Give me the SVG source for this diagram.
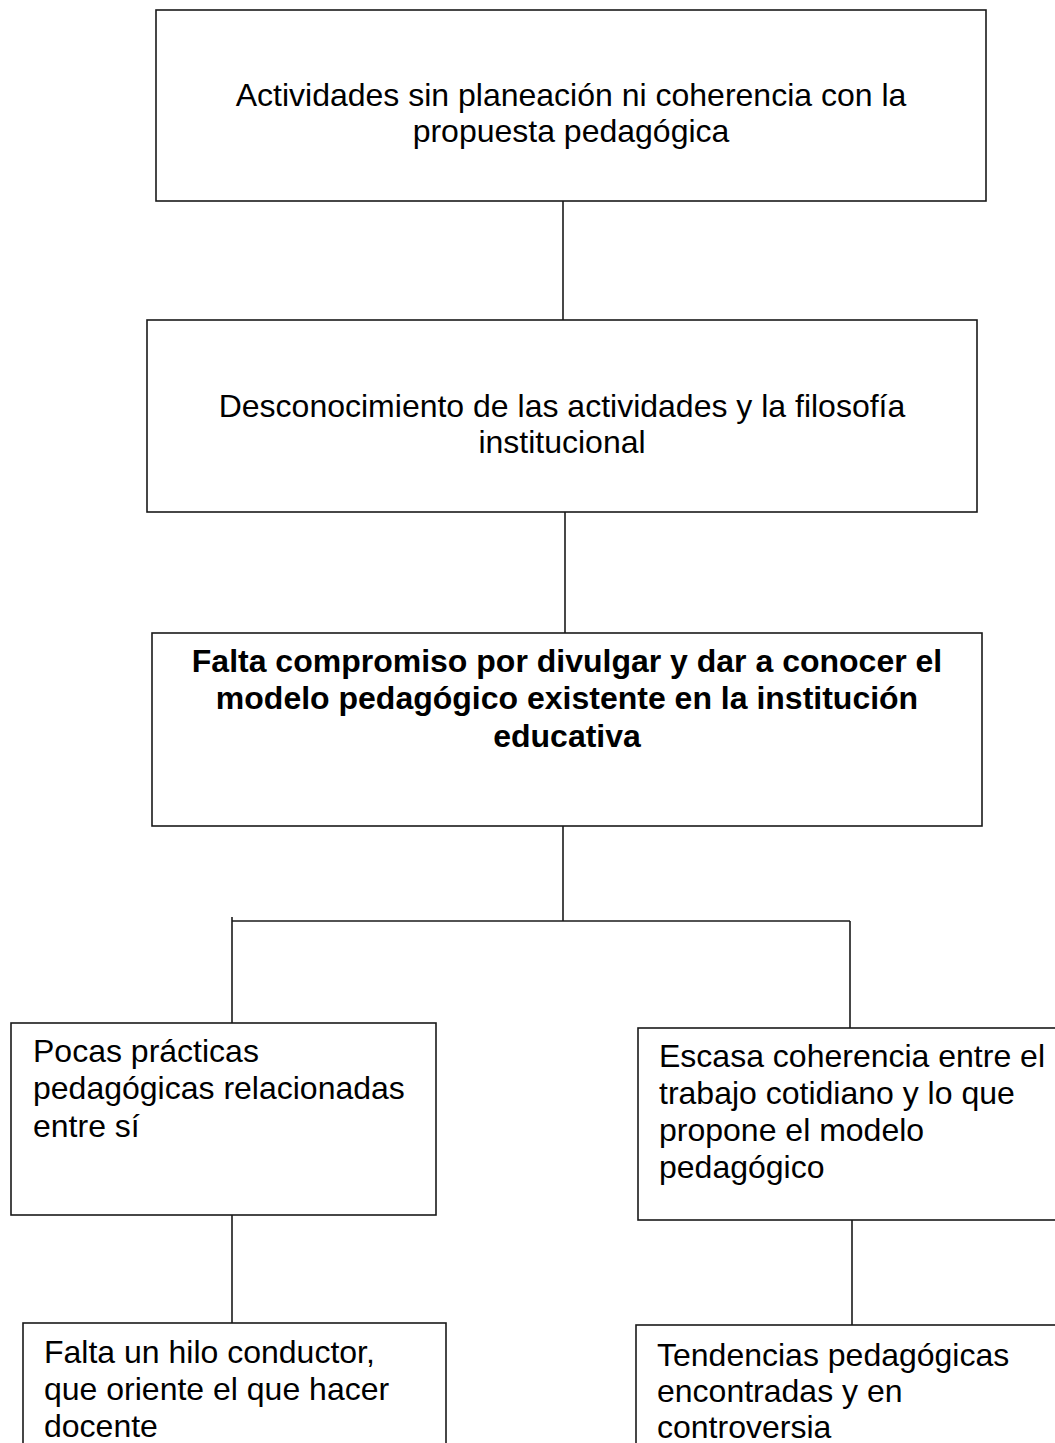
<svg xmlns="http://www.w3.org/2000/svg" width="1055" height="1443" viewBox="0 0 1055 1443">
<style>
.box{fill:#fff;stroke:#1a1a1a;stroke-width:1.6}
.ln{stroke:#1a1a1a;stroke-width:1.6;fill:none}
.t{font-family:"Liberation Sans",Arial,sans-serif;font-size:32px;fill:#000}
.c{text-anchor:middle}
.b{font-weight:bold}
</style>
<rect width="1055" height="1443" fill="#fff"/>
<g id="connectors">
<line class="ln" x1="563" y1="201" x2="563" y2="320"/>
<line class="ln" x1="565" y1="512" x2="565" y2="633"/>
<line class="ln" x1="563" y1="826" x2="563" y2="921"/>
<line class="ln" x1="232" y1="921" x2="850" y2="921"/>
<line class="ln" x1="232" y1="917" x2="232" y2="1023"/>
<line class="ln" x1="850" y1="921" x2="850" y2="1028"/>
<line class="ln" x1="232" y1="1215" x2="232" y2="1323"/>
<line class="ln" x1="852" y1="1220" x2="852" y2="1325"/>
</g>
<g id="n1">
<rect class="box" x="156" y="10" width="830" height="191"/>
<text class="t c" x="571" y="106">Actividades sin planeación ni coherencia con la</text>
<text class="t c" x="571" y="142">propuesta pedagógica</text>
</g>
<g id="n2">
<rect class="box" x="147" y="320" width="830" height="192"/>
<text class="t c" x="562" y="417">Desconocimiento de las actividades y la filosofía</text>
<text class="t c" x="562" y="453">institucional</text>
</g>
<g id="n3">
<rect class="box" x="152" y="633" width="830" height="193"/>
<text class="t c b" x="567" y="672">Falta compromiso por divulgar y dar a conocer el</text>
<text class="t c b" x="567" y="709">modelo pedagógico existente en la institución</text>
<text class="t c b" x="567" y="747">educativa</text>
</g>
<g id="n4">
<rect class="box" x="11" y="1023" width="425" height="192"/>
<text class="t" x="33" y="1062">Pocas prácticas</text>
<text class="t" x="33" y="1099">pedagógicas relacionadas</text>
<text class="t" x="33" y="1137">entre sí</text>
</g>
<g id="n5">
<rect class="box" x="638" y="1028" width="430" height="192"/>
<text class="t" x="659" y="1067">Escasa coherencia entre el</text>
<text class="t" x="659" y="1104">trabajo cotidiano y lo que</text>
<text class="t" x="659" y="1141">propone el modelo</text>
<text class="t" x="659" y="1178">pedagógico</text>
</g>
<g id="n6">
<rect class="box" x="23" y="1323" width="423" height="140"/>
<text class="t" x="44" y="1363">Falta un hilo conductor,</text>
<text class="t" x="44" y="1400">que oriente el que hacer</text>
<text class="t" x="44" y="1437">docente</text>
</g>
<g id="n7">
<rect class="box" x="636" y="1325" width="430" height="140"/>
<text class="t" x="657" y="1366">Tendencias pedagógicas</text>
<text class="t" x="657" y="1402">encontradas y en</text>
<text class="t" x="657" y="1438">controversia</text>
</g>
</svg>
